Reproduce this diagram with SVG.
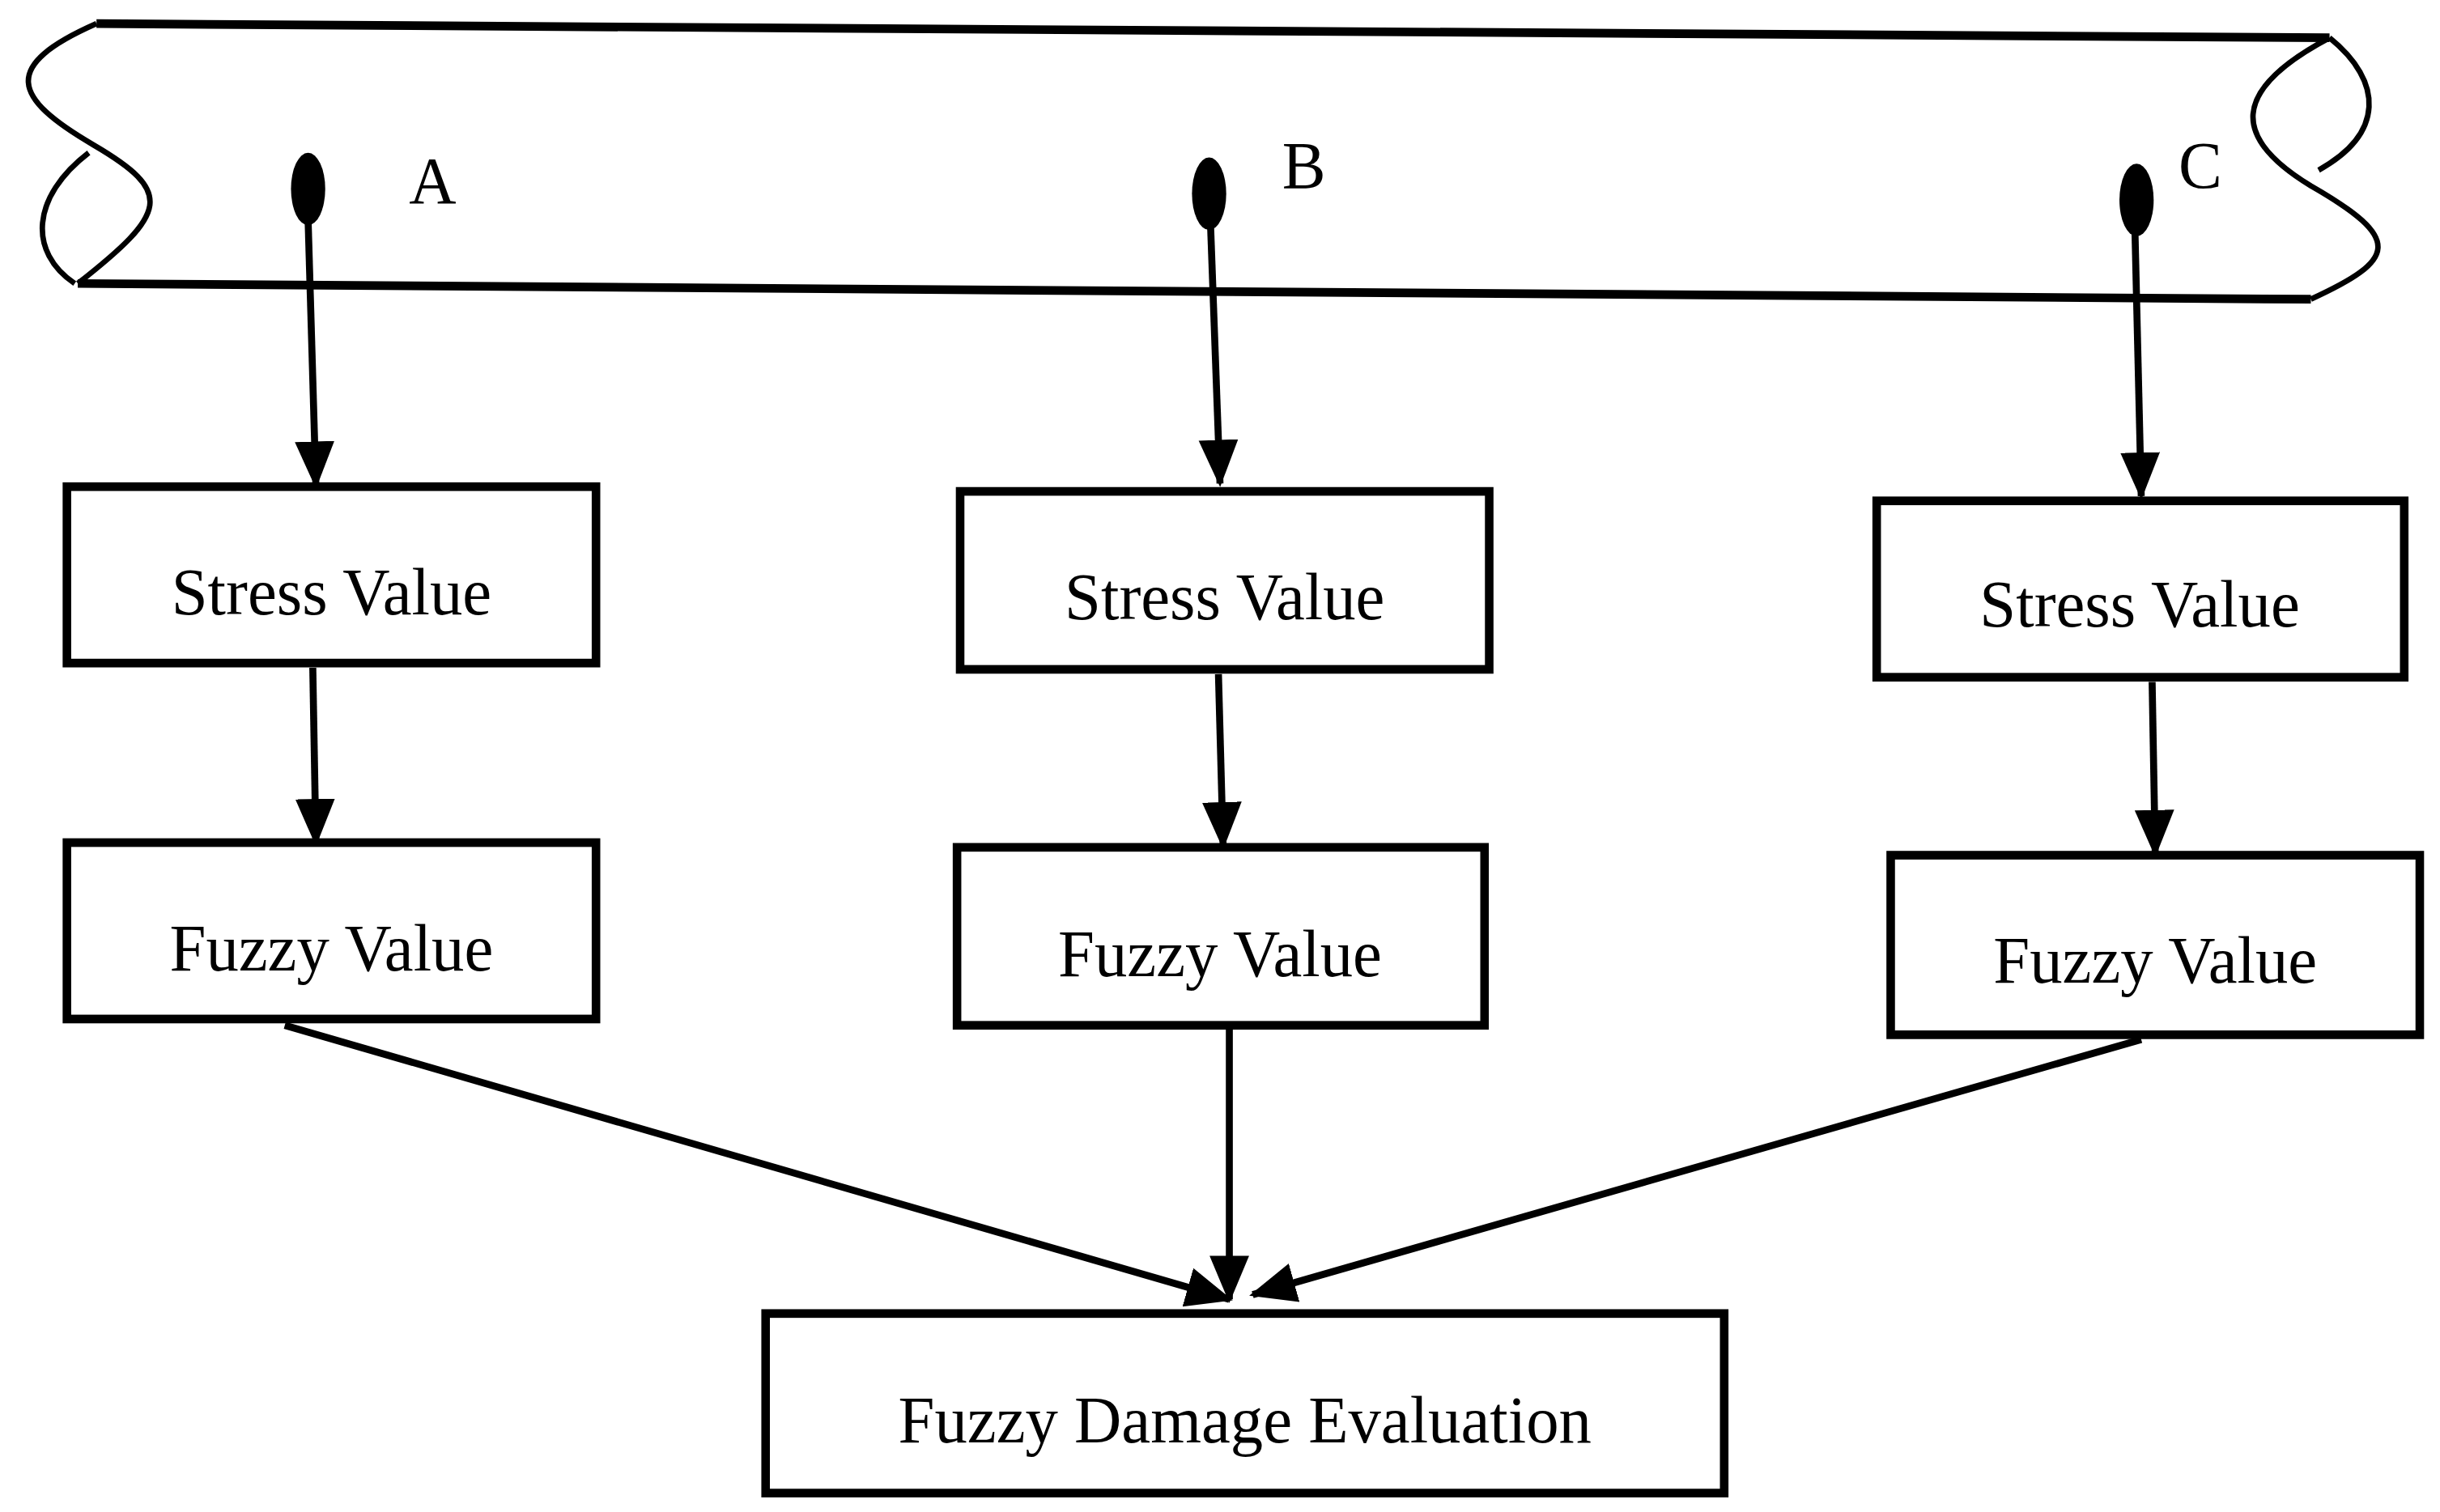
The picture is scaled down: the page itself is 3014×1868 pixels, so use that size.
<svg xmlns="http://www.w3.org/2000/svg" width="3014" height="1868" viewBox="0 0 3014 1868">
<style>
.box{fill:#fff;stroke:#000;stroke-width:5.5}
.lbl{font-family:"Liberation Serif",serif;font-size:42px;fill:#000;text-anchor:middle}
.con{stroke:#000;stroke-width:4.5;fill:none}
.pipe{stroke:#000;fill:none}
</style>
<defs>
<marker id="ah" markerUnits="userSpaceOnUse" markerWidth="30" markerHeight="30" refX="24" refY="11" orient="auto" viewBox="0 0 26 22">
<path d="M0,0 L26,11 L0,22 Z" fill="#000"/>
</marker>
</defs>
<rect width="3014" height="1868" fill="#fff"/>
<g transform="scale(1.9222,1.9458)">
<g id="pipe">
<path class="pipe" stroke-width="5.5" d="M62,15 L1497,24"/>
<path class="pipe" stroke-width="5.5" d="M50,180 L1485,190"/>
<path class="pipe" stroke-width="3.5" d="M62,15 C0,42 8,62 60,92 C112,122 108,135 50,180"/>
<path class="pipe" stroke-width="3.5" d="M57,97 C20,125 18,160 48,180"/>
<path class="pipe" stroke-width="3.5" d="M1497,24 C1432,58 1435,88 1485,118 C1545,152 1540,165 1485,190"/>
<path class="pipe" stroke-width="3.5" d="M1497,24 C1532,52 1532,85 1490,108"/>
<ellipse cx="198" cy="120" rx="11" ry="23" fill="#000"/>
<ellipse cx="777" cy="123" rx="11" ry="23" fill="#000"/>
<ellipse cx="1373" cy="127" rx="11" ry="23" fill="#000"/>
<text class="lbl" x="278" y="129" font-size="34">A</text>
<text class="lbl" x="838" y="119" font-size="34">B</text>
<text class="lbl" x="1414" y="119" font-size="34">C</text>
</g>
<g id="connectors">
<path class="con" marker-end="url(#ah)" d="M198,140 L203,308"/>
<path class="con" marker-end="url(#ah)" d="M778,145 L784,307"/>
<path class="con" marker-end="url(#ah)" d="M1372,148 L1376,315"/>
<path class="con" marker-end="url(#ah)" d="M201,424 L203,535"/>
<path class="con" marker-end="url(#ah)" d="M783,428 L786,537"/>
<path class="con" marker-end="url(#ah)" d="M1383,433 L1385,542"/>
<path class="con" marker-end="url(#ah)" d="M183,651 L790,825"/>
<path class="con" marker-end="url(#ah)" d="M790,653 L790,825"/>
<path class="con" marker-end="url(#ah)" d="M1376,660 L805,822"/>
</g>
<g id="stressA"><rect class="box" x="43" y="309" width="340" height="112"/><text class="lbl" x="213" y="390">Stress Value</text></g>
<g id="stressB"><rect class="box" x="617" y="312" width="340" height="113"/><text class="lbl" x="787" y="393">Stress Value</text></g>
<g id="stressC"><rect class="box" x="1206" y="318" width="339" height="112"/><text class="lbl" x="1375" y="398">Stress Value</text></g>
<g id="fuzzyA"><rect class="box" x="43" y="535" width="340" height="112"/><text class="lbl" x="213" y="616">Fuzzy Value</text></g>
<g id="fuzzyB"><rect class="box" x="615" y="538" width="339" height="113"/><text class="lbl" x="784" y="620">Fuzzy Value</text></g>
<g id="fuzzyC"><rect class="box" x="1215" y="543" width="340" height="114"/><text class="lbl" x="1385" y="624">Fuzzy Value</text></g>
<g id="final"><rect class="box" x="492" y="834" width="616" height="114"/><text class="lbl" x="800" y="916">Fuzzy Damage Evaluation</text></g>
</g>
</svg>
